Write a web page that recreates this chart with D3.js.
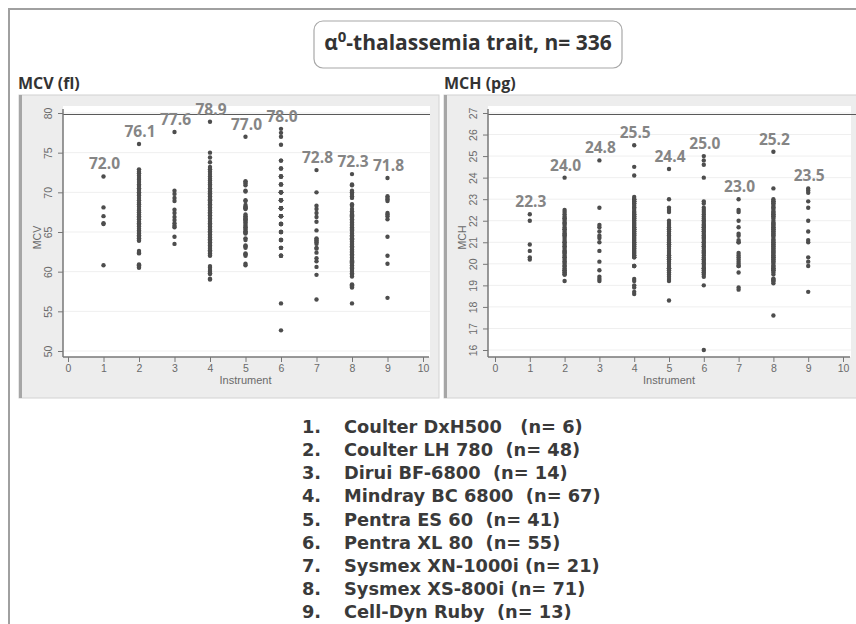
<!DOCTYPE html>
<html>
<head>
<meta charset="utf-8">
<script src="https://cdn.jsdelivr.net/npm/d3@7"></script>
<style>
  body { margin: 0; background: #fff; }
  svg { display: block; }
  .legend text { white-space: pre; }
</style>
</head>
<body>
<svg id="chart" width="856" height="624"></svg>
<script>
// Instruments on the x axis (1..9) and the legend lines under the panels.
var instrumentTicks = [0, 1, 2, 3, 4, 5, 6, 7, 8, 9, 10];
var legendNumbers = ["1.", "2.", "3.", "4.", "5.", "6.", "7.", "8.", "9."];
var legendLabels = [
  "Coulter DxH500   (n= 6)",
  "Coulter LH 780  (n= 48)",
  "Dirui BF-6800  (n= 14)",
  "Mindray BC 6800  (n= 67)",
  "Pentra ES 60  (n= 41)",
  "Pentra XL 80  (n= 55)",
  "Sysmex XN-1000i (n= 21)",
  "Sysmex XS-800i (n= 71)",
  "Cell-Dyn Ruby  (n= 13)"
];

// MCV (fl), one list per instrument.
var mcv1 = [72.0, 68.1, 67.0, 66.1, 66.0, 60.8];
var mcv2 = [76.1, 72.9, 72.6, 72.4, 72.1, 71.8, 71.6, 71.3, 71.0, 70.8, 70.5, 70.3, 70.0, 69.8, 69.6, 69.3,
            69.0, 68.7, 68.5, 68.2, 67.9, 67.7, 67.5, 67.2, 67.0, 66.8, 66.6, 66.3, 66.1, 65.9, 65.7, 65.4,
            65.2, 65.0, 64.8, 64.6, 64.4, 64.2, 64.0, 63.9, 62.6, 62.4, 62.3, 60.9, 60.8, 60.7, 60.6, 60.5];
var mcv3 = [77.6, 70.2, 69.8, 69.3, 68.9, 67.8, 67.4, 66.9, 66.5, 66.1, 65.8, 65.6, 64.4, 63.5];
var mcv4 = [78.9, 75.0, 74.4, 73.8, 73.2, 72.9, 72.6, 72.3, 72.0, 71.7, 71.5, 71.2, 71.0, 70.8, 70.5, 70.3,
            70.1, 69.9, 69.7, 69.5, 69.3, 69.1, 68.9, 68.7, 68.5, 68.3, 68.1, 67.9, 67.7, 67.5, 67.3, 67.1,
            66.9, 66.7, 66.5, 66.3, 66.1, 65.9, 65.7, 65.5, 65.3, 65.1, 64.9, 64.7, 64.5, 64.3, 64.1, 63.9,
            63.7, 63.5, 63.3, 63.1, 62.9, 62.7, 62.5, 62.3, 62.1, 62.0, 60.7, 60.5, 60.2, 60.0, 59.8, 59.7,
            59.1, 59.0, 69.0];
var mcv5 = [77.0, 71.4, 71.3, 71.1, 70.9, 70.2, 70.1, 69.0, 68.9, 68.4, 68.2, 68.0, 67.9, 67.2, 67.0, 66.9,
            66.7, 66.5, 66.4, 66.2, 66.0, 65.8, 65.3, 65.1, 65.0, 64.9, 64.8, 64.2, 64.0, 63.3, 63.2, 63.0,
            62.3, 62.2, 62.0, 61.0, 60.8, 66.6, 68.1, 65.6, 65.5];
var mcv6 = [78.0, 77.5, 77.0, 76.0, 74.0, 74.0, 73.0, 73.0, 72.0, 72.0, 72.0, 71.0, 71.0, 71.0, 70.0, 70.0,
            70.0, 70.0, 69.0, 69.0, 69.0, 69.0, 68.0, 68.0, 68.0, 68.0, 68.0, 67.0, 67.0, 67.0, 67.0, 67.0,
            66.0, 66.0, 66.0, 66.0, 65.0, 65.0, 65.0, 65.0, 64.0, 64.0, 64.0, 64.0, 63.0, 63.0, 63.0, 62.0,
            62.0, 62.0, 72.0, 70.0, 66.0, 56.0, 52.6];
var mcv7 = [72.8, 70.0, 68.3, 67.9, 67.4, 66.9, 66.3, 65.2, 64.2, 63.9, 63.5, 63.0, 62.4, 61.7, 61.3, 60.6,
            59.6, 56.5, 63.7, 62.9, 64.0];
var mcv8 = [72.3, 71.0, 70.9, 70.2, 70.0, 69.8, 69.5, 69.3, 68.5, 68.3, 67.9, 67.6, 67.4, 67.2, 67.0, 66.8,
            66.6, 66.4, 66.2, 66.0, 65.8, 65.6, 65.4, 65.2, 65.0, 64.8, 64.6, 64.4, 64.2, 64.0, 63.8, 63.6,
            63.4, 63.2, 63.0, 62.8, 62.6, 62.4, 62.2, 62.0, 61.8, 61.6, 61.4, 61.2, 61.0, 60.8, 60.6, 60.4,
            60.2, 60.0, 59.8, 59.6, 59.4, 58.4, 58.3, 58.2, 58.1, 58.0, 56.0, 65.3, 64.5, 63.5, 62.5, 61.3,
            60.5, 67.1, 66.5, 65.9, 64.1, 63.1, 61.1];
var mcv9 = [71.8, 69.5, 69.3, 69.1, 68.9, 67.4, 67.2, 67.0, 66.6, 64.4, 62.0, 61.0, 56.7];
var mcvValues = [mcv1, mcv2, mcv3, mcv4, mcv5, mcv6, mcv7, mcv8, mcv9];
var mcvMaxLabels = ["72.0", "76.1", "77.6", "78.9", "77.0", "78.0", "72.8", "72.3", "71.8"];
var mcvTicks = [50, 55, 60, 65, 70, 75, 80];

// MCH (pg), one list per instrument.
var mch1 = [22.3, 22.0, 20.9, 20.6, 20.3, 20.2];
var mch2 = [24.0, 22.5, 22.4, 22.3, 22.2, 22.1, 22.0, 21.9, 21.9, 21.8, 21.7, 21.6, 21.6, 21.5, 21.4, 21.3,
            21.3, 21.2, 21.1, 21.0, 21.0, 20.9, 20.8, 20.8, 20.7, 20.6, 20.6, 20.5, 20.4, 20.3, 20.3, 20.2,
            20.1, 20.1, 20.0, 19.9, 19.9, 19.8, 19.7, 19.7, 19.6, 19.6, 19.5, 19.5, 19.2, 21.4, 20.5, 22.1];
var mch3 = [24.8, 22.6, 21.8, 21.7, 21.5, 21.3, 21.2, 21.0, 20.6, 20.1, 19.7, 19.4, 19.2, 19.3];
var mch4 = [25.5, 24.5, 24.1, 23.1, 23.0, 23.0, 22.9, 22.8, 22.7, 22.6, 22.5, 22.4, 22.4, 22.3, 22.2, 22.1,
            22.0, 22.0, 21.9, 21.8, 21.7, 21.7, 21.6, 21.5, 21.4, 21.4, 21.3, 21.2, 21.1, 21.1, 21.0, 20.9,
            20.8, 20.8, 20.7, 20.6, 20.5, 20.5, 20.4, 20.3, 20.3, 19.9, 19.9, 19.9, 19.3, 19.2, 19.0, 18.9,
            18.7, 18.6, 22.9, 22.6, 22.3, 22.1, 21.9, 21.6, 21.3, 21.0, 20.7, 20.4, 22.8, 22.2, 21.8, 21.5,
            21.2, 20.9, 20.6];
var mch5 = [24.4, 23.0, 22.6, 22.5, 22.4, 21.9, 21.8, 21.7, 21.6, 21.5, 21.4, 21.3, 21.2, 21.1, 21.0, 20.9,
            20.8, 20.7, 20.6, 20.5, 20.4, 20.3, 20.2, 20.1, 20.0, 19.9, 19.8, 19.7, 19.6, 19.5, 19.4, 19.3,
            19.2, 18.3, 21.3, 21.1, 20.9, 20.4, 20.2, 19.8, 22.0];
var mch6 = [25.0, 24.8, 24.6, 24.0, 22.9, 22.8, 22.6, 22.5, 22.4, 22.3, 22.2, 22.1, 22.0, 21.9, 21.8, 21.7,
            21.6, 21.5, 21.4, 21.3, 21.2, 21.1, 21.0, 20.9, 20.8, 20.7, 20.6, 20.5, 20.4, 20.3, 20.2, 20.1,
            20.0, 19.9, 19.8, 19.7, 19.6, 19.5, 19.4, 19.0, 16.0, 22.0, 21.8, 21.5, 21.2, 21.0, 20.8, 20.5,
            20.2, 20.0, 19.8, 21.7, 21.3, 20.6, 19.6];
var mch7 = [23.0, 22.5, 22.0, 21.7, 21.3, 21.0, 20.5, 20.4, 20.2, 20.0, 19.9, 19.6, 18.9, 18.8, 21.4, 21.1,
            20.3, 20.1, 19.9, 22.4, 21.0];
var mch8 = [25.2, 23.5, 23.0, 22.9, 22.8, 22.7, 22.6, 22.5, 22.4, 22.3, 22.2, 22.1, 22.0, 21.9, 21.8, 21.7,
            21.6, 21.5, 21.4, 21.3, 21.2, 21.1, 21.0, 20.9, 20.8, 20.7, 20.6, 20.5, 20.4, 20.3, 20.2, 20.1,
            20.0, 19.9, 19.8, 19.7, 19.6, 19.5, 19.3, 19.2, 19.2, 19.1, 17.6, 22.9, 22.6, 22.4, 22.2, 21.9,
            21.7, 21.5, 21.3, 21.1, 20.9, 20.7, 20.5, 20.3, 20.1, 19.9, 19.7, 19.3, 22.8, 22.3, 21.8, 21.4,
            21.0, 20.6, 20.2, 19.8, 21.6, 20.8, 20.4];
var mch9 = [23.5, 23.4, 23.3, 22.9, 22.6, 22.0, 21.5, 21.1, 21.0, 20.3, 20.1, 19.9, 18.7];
var mchValues = [mch1, mch2, mch3, mch4, mch5, mch6, mch7, mch8, mch9];
var mchMaxLabels = ["22.3", "24.0", "24.8", "25.5", "24.4", "25.0", "23.0", "25.2", "23.5"];
var mchTicks = [16, 17, 18, 19, 20, 21, 22, 23, 24, 25, 26, 27];

var svg = d3.select("#chart");
var axisFont = "'Liberation Sans', Arial, sans-serif";
var boldFont = "'Open Sans', 'DejaVu Sans', sans-serif";
var legendFont = "'DejaVu Sans', Verdana, sans-serif";

// Outer frame (left and top edges only are inside the picture).
svg.append("path")
    .attr("d", "M9,624V9H856")
    .attr("fill", "none")
    .attr("stroke", "#a0a0a0")
    .attr("stroke-width", 2);

// Title box.
svg.append("rect")
    .attr("x", 314).attr("y", 21)
    .attr("width", 308).attr("height", 47)
    .attr("rx", 9)
    .attr("fill", "#fff")
    .attr("stroke", "#a8a8a8")
    .attr("stroke-width", 1.2);

var title = svg.append("text")
    .attr("x", 468).attr("y", 50)
    .attr("text-anchor", "middle")
    .attr("font-family", boldFont)
    .attr("font-weight", "bold")
    .attr("font-size", 21)
    .attr("fill", "#333");
title.append("tspan").text("\u03b1");
title.append("tspan").attr("dy", -8).attr("font-size", 15).text("0");
title.append("tspan").attr("dy", 8).text("-thalassemia trait, n= 336");

// The two panels.
var panels = [
  { title: "MCV (fl)", yTitle: "MCV", values: mcvValues, maxLabels: mcvMaxLabels, yTicks: mcvTicks, refValue: 80,
    box: {x: 19, y: 95, w: 420, h: 303}, plot: {x: 63, y: 106, w: 367, h: 251},
    xRange: [68, 423], yRange: [351, 113], titleX: 18, refEnd: 430 },
  { title: "MCH (pg)", yTitle: "MCH", values: mchValues, maxLabels: mchMaxLabels, yTicks: mchTicks, refValue: 27,
    box: {x: 444, y: 95, w: 420, h: 303}, plot: {x: 488, y: 106, w: 363, h: 251},
    xRange: [495, 843], yRange: [350, 113], titleX: 444, refEnd: 856 }
];

panels.forEach(drawPanel);

function drawPanel(p) {
  var g = svg.append("g");

  // Panel title above the box.
  g.append("text")
      .attr("x", p.titleX).attr("y", 89)
      .attr("font-family", boldFont)
      .attr("font-weight", "bold")
      .attr("font-size", 16)
      .attr("fill", "#333")
      .text(p.title);

  // Grey graph region with a darker left edge.
  g.append("rect")
      .attr("x", p.box.x).attr("y", p.box.y)
      .attr("width", p.box.w).attr("height", p.box.h)
      .attr("fill", "#ededed")
      .attr("stroke", "#d2d2d2");
  g.append("line")
      .attr("x1", p.box.x + 1.5).attr("x2", p.box.x + 1.5)
      .attr("y1", p.box.y).attr("y2", p.box.y + p.box.h)
      .attr("stroke", "#a6a6a6")
      .attr("stroke-width", 3);

  // White plot region.
  g.append("rect")
      .attr("x", p.plot.x).attr("y", p.plot.y)
      .attr("width", p.plot.w).attr("height", p.plot.h)
      .attr("fill", "#fff");

  var xScale = d3.scaleLinear().domain([0, 10]).range(p.xRange);
  var yScale = d3.scaleLinear().domain(d3.extent(p.yTicks)).range(p.yRange);
  var axisBottomY = p.plot.y + p.plot.h;

  // Light grid lines.
  g.append("g").selectAll("line")
      .data(p.yTicks)
      .enter().append("line")
      .attr("x1", p.plot.x).attr("x2", p.plot.x + p.plot.w)
      .attr("y1", function(d) { return yScale(d); })
      .attr("y2", function(d) { return yScale(d); })
      .attr("stroke", "#efefef");

  // Reference line at the top tick.
  g.append("line")
      .attr("x1", p.plot.x).attr("x2", p.refEnd)
      .attr("y1", yScale(p.refValue) + 1.5).attr("y2", yScale(p.refValue) + 1.5)
      .attr("stroke", "#5a5a5a")
      .attr("stroke-width", 1.2);

  // x axis.
  var xAxis = d3.axisBottom(xScale).tickValues(instrumentTicks).tickSize(5).tickPadding(3).tickFormat(d3.format("d"));
  var xg = g.append("g")
      .attr("transform", "translate(0," + axisBottomY + ")")
      .call(xAxis);
  xg.select(".domain").remove();
  xg.append("line")
      .attr("x1", p.plot.x).attr("x2", p.plot.x + p.plot.w - 1)
      .attr("stroke", "#777").attr("stroke-width", 1.5);
  xg.selectAll(".tick line").attr("stroke", "#777");
  xg.selectAll(".tick text")
      .attr("font-family", axisFont)
      .attr("font-size", 10.5)
      .attr("fill", "#6a6a6a");

  g.append("text")
      .attr("x", (xScale(0) + xScale(10)) / 2).attr("y", axisBottomY + 27)
      .attr("text-anchor", "middle")
      .attr("font-family", axisFont)
      .attr("font-size", 11)
      .attr("fill", "#6a6a6a")
      .text("Instrument");

  // y axis with vertical tick labels.
  var yAxis = d3.axisLeft(yScale).tickValues(p.yTicks).tickSize(5).tickFormat(d3.format("d"));
  var yg = g.append("g")
      .attr("transform", "translate(" + p.plot.x + ",0)")
      .call(yAxis);
  yg.select(".domain").remove();
  yg.append("line")
      .attr("y1", p.plot.y + 3).attr("y2", axisBottomY)
      .attr("stroke", "#777").attr("stroke-width", 1.5);
  yg.selectAll(".tick line").attr("stroke", "#777");
  yg.selectAll(".tick text")
      .attr("x", null).attr("dy", null)
      .attr("transform", "translate(-11,0) rotate(-90)")
      .attr("text-anchor", "middle")
      .attr("font-family", axisFont)
      .attr("font-size", 10.5)
      .attr("fill", "#6a6a6a");

  g.append("text")
      .attr("transform", "translate(" + (p.plot.x - 22) + "," + ((p.plot.y + axisBottomY) / 2 + 6) + ") rotate(-90)")
      .attr("text-anchor", "middle")
      .attr("font-family", axisFont)
      .attr("font-size", 10.5)
      .attr("fill", "#6a6a6a")
      .text(p.yTitle);

  // Points: one column per instrument.
  var points = [];
  p.values.forEach(function(list, i) {
    list.forEach(function(v) { points.push({inst: i + 1, v: v}); });
  });
  g.append("g").selectAll("circle")
      .data(points)
      .enter().append("circle")
      .attr("cx", function(d) { return xScale(d.inst); })
      .attr("cy", function(d) { return yScale(d.v); })
      .attr("r", 2.2)
      .attr("fill", "#4d4d4d");

  // Maximum value labels above each column.
  g.append("g").selectAll("text")
      .data(p.maxLabels)
      .enter().append("text")
      .attr("x", function(d, i) { return xScale(i + 1) + 1; })
      .attr("y", function(d) { return yScale(+d) - 7; })
      .attr("text-anchor", "middle")
      .attr("font-family", boldFont)
      .attr("font-weight", "bold")
      .attr("font-size", 15.5)
      .attr("fill", "#858585")
      .text(function(d) { return d; });
}

// Legend of instruments.
var legend = svg.append("g").attr("class", "legend")
    .attr("font-family", legendFont)
    .attr("font-weight", "bold")
    .attr("font-size", 17.8)
    .attr("fill", "#3a3a3a");
var rowY = d3.scaleLinear().domain([0, 8]).range([433, 618]);
legend.selectAll("text.num")
    .data(legendNumbers)
    .enter().append("text")
    .attr("class", "num")
    .attr("x", 302)
    .attr("y", function(d, i) { return rowY(i); })
    .text(function(d) { return d; });
legend.selectAll("text.name")
    .data(legendLabels)
    .enter().append("text")
    .attr("class", "name")
    .attr("x", 344)
    .attr("y", function(d, i) { return rowY(i); })
    .text(function(d) { return d; });
</script>
</body>
</html>
